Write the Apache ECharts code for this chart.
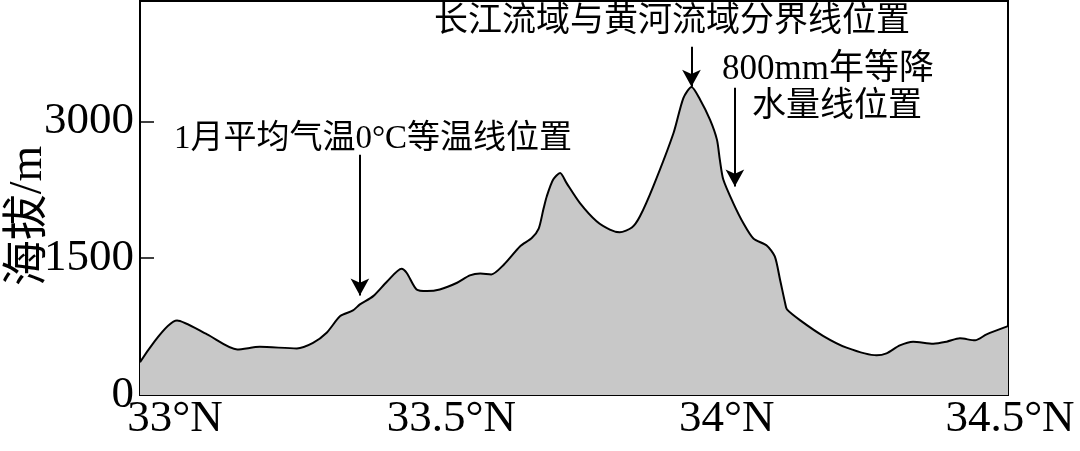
<!DOCTYPE html>
<html>
<head>
<meta charset="utf-8">
<script src="https://cdn.jsdelivr.net/npm/echarts@6/dist/echarts.min.js"></script>
<style>
html,body{margin:0;padding:0;background:#fff;}
#main{width:1080px;height:451px;}
</style>
</head>
<body>
<div id="main"></div>
<script>
// Profile: latitude (°N) and elevation (m)
var latitudes = [33.000, 33.064, 33.116, 33.168, 33.207, 33.271, 33.299, 33.323, 33.346, 33.368,
  33.380, 33.403, 33.427, 33.452, 33.461, 33.478, 33.496, 33.518, 33.548, 33.570,
  33.588, 33.607, 33.629, 33.657, 33.677, 33.689, 33.697, 33.703, 33.714, 33.726,
  33.737, 33.760, 33.789, 33.812, 33.829, 33.850, 33.864, 33.887, 33.922, 33.939,
  33.953, 33.968, 33.985, 33.997, 34.002, 34.008, 34.025, 34.043, 34.060, 34.083,
  34.097, 34.106, 34.115, 34.118, 34.141, 34.181, 34.221, 34.273, 34.290, 34.313,
  34.336, 34.371, 34.394, 34.417, 34.443, 34.463, 34.500];
var elevations = [360, 818, 665, 500, 528, 511, 572, 686, 865, 927,
  993, 1084, 1245, 1384, 1338, 1157, 1139, 1157, 1231, 1311,
  1332, 1322, 1431, 1631, 1721, 1825, 2033, 2179, 2362, 2435,
  2326, 2107, 1905, 1814, 1785, 1836, 1960, 2288, 2873, 3256,
  3377, 3238, 3019, 2800, 2581, 2362, 2107, 1880, 1716, 1639,
  1519, 1267, 1004, 938, 818, 646, 519, 435, 457, 544,
  585, 563, 585, 621, 599, 665, 755];
var xTickValues = [33, 33.5, 34, 34.5];
var xTickLabels = ['33°N', '33.5°N', '34°N', '34.5°N'];
var yTickValues = [0, 1500, 3000];
var yTickLabels = ['0', '1500', '3000'];
var yAxisTitle = '海拔/m';
var annoTexts = ['1月平均气温0°C等温线位置', '长江流域与黄河流域分界线位置', '800mm年等降', '水量线位置'];

var profile = latitudes.map(function (v, i) { return [v, elevations[i]]; });
var FONT = "'Liberation Serif', 'Noto Sans CJK SC', serif";

var chart = echarts.init(document.getElementById('main'), null, {renderer: 'canvas'});
var labelStyle = function (pad) {
  return {fontFamily: FONT, fontSize: 45, color: '#000', padding: [0, 0, 0, pad]};
};
chart.setOption({
  animation: false,
  backgroundColor: '#fff',
  grid: {left: 140, right: 72, top: 1, bottom: 56, containLabel: false, outerBoundsMode: 'none',
    show: true, borderColor: '#000', borderWidth: 2, backgroundColor: 'transparent'},
  xAxis: {
    type: 'value', min: 33, max: 34.5, interval: 0.5,
    splitLine: {show: false},
    axisLine: {show: true, onZero: false, lineStyle: {color: '#000', width: 2}},
    axisTick: {show: true, inside: true, length: 14, lineStyle: {color: '#000', width: 1.5}},
    axisLabel: {
      show: true, showMinLabel: true, showMaxLabel: true, margin: 2, hideOverlap: false,
      fontFamily: FONT, fontSize: 45, color: '#000',
      formatter: function (v) {
        var i = xTickValues.indexOf(Math.round(v * 10) / 10);
        return i < 0 ? '' : '{l' + i + '|' + xTickLabels[i] + '}';
      },
      rich: {l0: labelStyle(70), l1: labelStyle(44), l2: labelStyle(16), l3: labelStyle(4)}
    }
  },
  yAxis: {
    type: 'value', min: 0, max: 4320, interval: 1500,
    name: yAxisTitle, nameLocation: 'middle', nameGap: 88, nameMoveOverlap: false,
    nameTextStyle: {fontFamily: FONT, fontSize: 46, color: '#000', padding: [0, 36, 0, 0]},
    splitLine: {show: false},
    axisLine: {show: true, lineStyle: {color: '#000', width: 2}},
    axisTick: {show: true, inside: true, length: 14, customValues: yTickValues, lineStyle: {color: '#000', width: 1.5}},
    axisLabel: {
      show: true, margin: 6, customValues: yTickValues, hideOverlap: false,
      fontFamily: FONT, fontSize: 45, color: '#000',
      formatter: function (v) {
        var i = yTickValues.indexOf(Math.round(v));
        return i < 0 ? '' : yTickLabels[i];
      }
    }
  },
  series: [{
    type: 'line',
    data: profile,
    smooth: 0.25,
    showSymbol: false,
    lineStyle: {color: '#000', width: 2},
    areaStyle: {color: '#c8c8c8', opacity: 1},
    z: 2,
    markLine: {
      silent: true,
      symbol: ['none', 'arrow'],
      symbolSize: [14, 17],
      label: {show: false},
      lineStyle: {color: '#000', width: 2, type: 'solid'},
      data: [
        [{coord: [33.380, 2635]}, {coord: [33.380, 1092]}],
        [{coord: [33.953, 3818]}, {coord: [33.953, 3380]}],
        [{coord: [34.028, 3368]}, {coord: [34.028, 2285]}]
      ]
    }
  }],
  graphic: [
    {type: 'text', x: 373, y: 139, style: {text: annoTexts[0], font: '33px ' + FONT, fill: '#000', align: 'center', verticalAlign: 'middle'}},
    {type: 'text', x: 672, y: 22, style: {text: annoTexts[1], font: '34px ' + FONT, fill: '#000', align: 'center', verticalAlign: 'middle'}},
    {type: 'text', x: 828, y: 70, style: {text: annoTexts[2], font: '35px ' + FONT, fill: '#000', align: 'center', verticalAlign: 'middle'}},
    {type: 'text', x: 837, y: 107, style: {text: annoTexts[3], font: '34px ' + FONT, fill: '#000', align: 'center', verticalAlign: 'middle'}}
  ]
});
</script>
</body>
</html>
